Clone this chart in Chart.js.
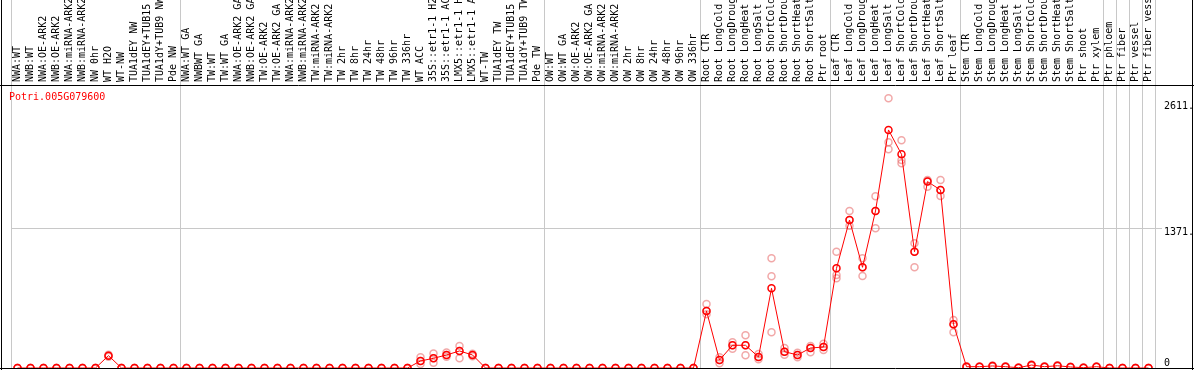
<!DOCTYPE html>
<html>
<head>
<meta charset="utf-8">
<script src="https://cdn.jsdelivr.net/npm/chart.js@4.4.1/dist/chart.umd.min.js"></script>
<style>
  html, body { margin: 0; padding: 0; background: #fff; }
  #wrap { width: 1194px; height: 370px; position: relative; }
</style>
</head>
<body>
<div id="wrap"><canvas id="exprChart"></canvas></div>
<script>
/* expression profile for one gene across sample sets */

const geneName = 'Potri.005G079600';

const sampleLabels = [
    'NWA:WT', 'NWB:WT', 'NWA:OE-ARK2', 'NWB:OE-ARK2', 'NWA:miRNA-ARK2', 'NWB:miRNA-ARK2', 'NW 0hr', 'WT H2O', 'WT-NW', 'TUA1dEY NW', 'TUA1dEY+TUB15 NW', 'TUA1dY+TUB9 NW', 'Pde NW',
    'NWA:WT GA', 'NWBWT GA', 'TW:WT', 'TW:WT GA', 'NWA:OE-ARK2 GA', 'NWB:OE-ARK2 GA', 'TW:OE-ARK2', 'TW:OE-ARK2 GA', 'NWA:miRNA-ARK2 GA', 'NWB:miRNA-ARK2 GA', 'TW:miRNA-ARK2', 'TW:miRNA-ARK2 GA',
    'TW 2hr', 'TW 8hr', 'TW 24hr', 'TW 48hr', 'TW 96hr', 'TW 336hr', 'WT ACC', '35S::etr1-1 H2O', '35S::etr1-1 ACC', 'LMX5::etr1-1 H2O', 'LMX5::etr1-1 ACC', 'WT-TW', 'TUA1dEY TW', 'TUA1dEY+TUB15 TW', 'TUA1dY+TUB9 TW', 'Pde TW',
    'OW:WT', 'OW:WT GA', 'OW:OE-ARK2', 'OW:OE-ARK2 GA', 'OW:miRNA-ARK2', 'OW:miRNA-ARK2 GA', 'OW 2hr', 'OW 8hr', 'OW 24hr', 'OW 48hr', 'OW 96hr', 'OW 336hr',
    'Root CTR', 'Root LongCold', 'Root LongDrought', 'Root LongHeat', 'Root LongSalt', 'Root ShortCold', 'Root ShortDrought', 'Root ShortHeat', 'Root ShortSalt', 'Ptr root',
    'Leaf CTR', 'Leaf LongCold', 'Leaf LongDrought', 'Leaf LongHeat', 'Leaf LongSalt', 'Leaf ShortCold', 'Leaf ShortDrought', 'Leaf ShortHeat', 'Leaf ShortSalt', 'Ptr leaf',
    'Stem CTR', 'Stem LongCold', 'Stem LongDrought', 'Stem LongHeat', 'Stem LongSalt', 'Stem ShortCold', 'Stem ShortDrought', 'Stem ShortHeat', 'Stem ShortSalt', 'Ptr shoot', 'Ptr xylem',
    'Ptr phloem', 'Ptr fiber', 'Ptr vessel', 'Ptr fiber vessel'
];

// first sample of each block -> gray separator line
const groupStarts = [0, 13, 41, 53, 63, 73, 84, 85, 86, 87];

const meanValues = [
    0, 0, 0, 0, 0, 0, 0, 121, 0, 0, 0, 0, 0,
    0, 0, 0, 0, 0, 0, 0, 0, 0, 0, 0, 0, 0, 0, 0, 0, 0, 0, 69, 95, 128, 167, 128, 0, 0, 0, 0, 0,
    0, 0, 0, 0, 0, 0, 0, 0, 0, 0, 0, 0,
    559, 78, 223, 223, 108, 782, 160, 128, 196, 206,
    978, 1452, 988, 1541, 2336, 2097, 1141, 1829, 1747, 429,
    13, 13, 20, 13, 3, 29, 13, 22, 10, 3, 13,
    0, 0, 0, 0
];

const rep1 = [
    0, 0, 0, 0, 0, 0, 0, 130, 0, 0, 0, 0, 0,
    0, 0, 0, 0, 0, 0, 0, 0, 0, 0, 0, 0, 0, 0, 0, 0, 0, 0, 105, 142, 152, 216, 140, 0, 0, 0, 0, 0,
    0, 0, 0, 0, 0, 0, 0, 0, 0, 0, 0, 0,
    628, 105, 252, 321, 137, 1076, 196, 150, 216, 239,
    1141, 1541, 1076, 1685, 2647, 2235, 1224, 1845, 1845, 471,
    18, 15, 25, 16, 5, 35, 16, 27, 12, 5, 15,
    0, 0, 0, 0
];

const rep2 = [
    0, 0, 0, 0, 0, 0, 0, 110, 0, 0, 0, 0, 0,
    0, 0, 0, 0, 0, 0, 0, 0, 0, 0, 0, 0, 0, 0, 0, 0, 0, 0, 40, 52, 110, 95, 115, 0, 0, 0, 0, 0,
    0, 0, 0, 0, 0, 0, 0, 0, 0, 0, 0, 0,
    527, 46, 190, 124, 85, 350, 131, 105, 154, 177,
    880, 1397, 903, 1371, 2146, 2009, 988, 1779, 1688, 350,
    8, 10, 15, 10, 1, 22, 10, 17, 8, 1, 10,
    0, 0, 0, 0
];

const rep3 = [
    0, 0, 0, 0, 0, 0, 0, 121, 0, 0, 0, 0, 0,
    0, 0, 0, 0, 0, 0, 0, 0, 0, 0, 0, 0, 0, 0, 0, 0, 0, 0, 69, 95, 128, 167, 128, 0, 0, 0, 0, 0,
    0, 0, 0, 0, 0, 0, 0, 0, 0, 0, 0, 0,
    559, 78, 223, 223, 108, 900, 160, 128, 196, 206,
    913, 1452, 988, 1541, 2215, 2041, 1141, 1829, 1747, 429,
    13, 13, 20, 13, 3, 29, 13, 22, 10, 3, 13,
    0, 0, 0, 0
];

const yTickValues = [0, 1371, 2611];
const yTickLabels = ['0', '1371.', '2611.'];
const yMax = 2777;

const FONT = "'DejaVu Sans Mono', monospace";
const GRID_GRAY = '#c8c8c8';
const PINK = 'rgba(232, 110, 110, 0.6)';

/* black frame + gene name */
const framePlugin = {
    id: 'frame',
    afterDraw(chart) {
        const ctx = chart.ctx;
        const w = chart.width, h = chart.height;
        const top = chart.chartArea.top, bottom = chart.chartArea.bottom;
        ctx.save();
        ctx.strokeStyle = '#000';
        ctx.lineWidth = 1;
        ctx.beginPath();
        ctx.moveTo(1.5, 0); ctx.lineTo(1.5, h);
        ctx.moveTo(w - 1.5, 0); ctx.lineTo(w - 1.5, h);
        ctx.moveTo(0, top + 0.5); ctx.lineTo(w, top + 0.5);
        ctx.moveTo(0, bottom + 0.5); ctx.lineTo(w, bottom + 0.5);
        ctx.stroke();
        ctx.fillStyle = '#ff0000';
        ctx.font = '10px ' + FONT;
        ctx.textBaseline = 'alphabetic';
        ctx.fillText(geneName, 9, top + 15);
        ctx.restore();
    }
};

function repDataset(values) {
    return {
        data: values,
        showLine: false,
        borderColor: PINK,
        pointBorderColor: PINK,
        pointBackgroundColor: 'rgba(0,0,0,0)',
        pointRadius: 3.5,
        pointBorderWidth: 1.5,
        clip: 0
    };
}

function noPadding(scale) {
    scale.paddingTop = 0;
    scale.paddingBottom = 0;
    scale.paddingLeft = 0;
    scale.paddingRight = 0;
}

const ctx = document.getElementById('exprChart').getContext('2d');

new Chart(ctx, {
    type: 'line',
    data: {
        labels: sampleLabels,
        datasets: [
            {
                data: meanValues,
                borderColor: '#ff0000',
                borderWidth: 1,
                tension: 0,
                pointBorderColor: '#ff0000',
                pointBackgroundColor: 'rgba(0,0,0,0)',
                pointRadius: 3.5,
                pointBorderWidth: 1.5,
                clip: 0
            },
            repDataset(rep1),
            repDataset(rep2),
            repDataset(rep3)
        ]
    },
    options: {
        responsive: true,
        maintainAspectRatio: false,
        animation: false,
        layout: { autoPadding: false, padding: { left: 11, right: 0, top: 0, bottom: 2 } },
        plugins: {
            legend: { display: false },
            tooltip: { enabled: false }
        },
        scales: {
            x: {
                type: 'category',
                position: 'top',
                offset: true,
                border: { display: false },
                grid: {
                    offset: true,
                    tickLength: 85,
                    lineWidth: 1,
                    color: (c) => {
                        if (c.type !== 'tick') return GRID_GRAY;
                        return groupStarts.includes(c.index) ? GRID_GRAY : 'rgba(0,0,0,0)';
                    }
                },
                ticks: {
                    autoSkip: false,
                    minRotation: 90,
                    maxRotation: 90,
                    padding: -82,
                    labelOffset: 12,
                    color: '#000',
                    font: { family: FONT, size: 10 }
                },
                afterFit: (scale) => { scale.height = 85; noPadding(scale); }
            },
            y: {
                position: 'right',
                min: 0,
                max: yMax,
                border: { display: false },
                grid: {
                    tickLength: 7,
                    color: (c) => (c.tick && c.tick.value === 1371) ? GRID_GRAY : 'rgba(0,0,0,0)'
                },
                afterBuildTicks: (scale) => {
                    scale.ticks = yTickValues.map(v => ({ value: v }));
                },
                ticks: {
                    padding: 2,
                    color: '#000',
                    font: { family: FONT, size: 10, lineHeight: 0.9 },
                    callback: (value) => {
                        const i = yTickValues.indexOf(value);
                        const label = i >= 0 ? yTickLabels[i] : '';
                        return value === 0 ? [label, ''] : ['', label];
                    }
                },
                afterFit: (scale) => { scale.width = 39; noPadding(scale); }
            }
        }
    },
    plugins: [framePlugin]
});
</script>
</body>
</html>
